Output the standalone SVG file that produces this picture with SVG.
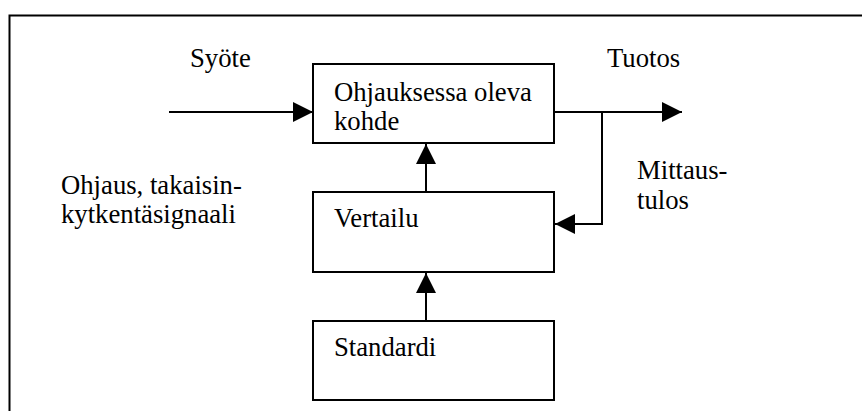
<svg xmlns="http://www.w3.org/2000/svg" width="862" height="411" viewBox="0 0 862 411">
<style>
.box{fill:#fff;stroke:#000;stroke-width:2}
.t{font-family:'Liberation Serif',Tinos,'DejaVu Serif',serif;font-size:26.7px;fill:#000}
.c{fill:none;stroke:#000;stroke-width:2}
.f{fill:none;stroke:#000;stroke-width:2}
</style>
<defs>
<marker id="ah" markerUnits="userSpaceOnUse" markerWidth="20" markerHeight="20" refX="20" refY="10" orient="auto">
<path d="M0,0 L20,10 L0,20 z" fill="#000"/>
</marker>
</defs>
<rect width="862" height="411" fill="#fff"/>
<path class="f" d="M9.5,411 V15.5 H862"/>
<g id="labels">
<text class="t" x="190" y="67">Syöte</text>
<text class="t" x="607" y="67">Tuotos</text>
<text class="t" x="637" y="179">Mittaus-</text>
<text class="t" x="637" y="209">tulos</text>
<text class="t" x="61" y="194">Ohjaus, takaisin-</text>
<text class="t" x="61" y="223">kytkentäsignaali</text>
</g>
<g id="kohde">
<rect class="box" x="313" y="64" width="241" height="79"/>
<text class="t" x="334" y="101">Ohjauksessa oleva</text>
<text class="t" x="334" y="130">kohde</text>
</g>
<g id="vertailu">
<rect class="box" x="313" y="192" width="241" height="80"/>
<text class="t" x="334" y="227">Vertailu</text>
</g>
<g id="standardi">
<rect class="box" x="313" y="321" width="241" height="79"/>
<text class="t" x="334" y="356">Standardi</text>
</g>
<g id="connectors">
<path class="c" d="M169,112 H313" marker-end="url(#ah)"/>
<path class="c" d="M554,112 H682" marker-end="url(#ah)"/>
<path class="c" d="M602,112 V224 H555" marker-end="url(#ah)"/>
<path class="c" d="M426,192 V144" marker-end="url(#ah)"/>
<path class="c" d="M426,321 V273" marker-end="url(#ah)"/>
</g>
</svg>
